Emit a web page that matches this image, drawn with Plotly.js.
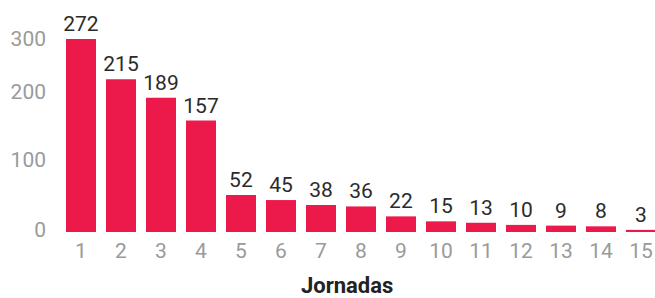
<!DOCTYPE html>
<html>
<head>
<meta charset="utf-8">
<script src="https://cdn.plot.ly/plotly-3.0.1.min.js"></script>
<style>html,body{margin:0;padding:0;background:#fff}#chart{width:655px;height:298px}</style>
</head>
<body>
<div id="chart"></div>
<script>
const jornadas = ["1","2","3","4","5","6","7","8","9","10","11","12","13","14","15"];
const valores = [272, 215, 189, 157, 52, 45, 38, 36, 22, 15, 13, 10, 9, 8, 3];
const yTickVals = [4, 102, 197, 272];
const yTickText = ["0", "100", "200", "300"];
const xTitle = "Jornadas";

const font = "Roboto, 'Open Sans', sans-serif";

Plotly.newPlot("chart", [{
  type: "bar",
  x: jornadas.map(Number),
  y: valores,
  text: valores.map(String),
  textposition: "outside",
  constraintext: "none",
  cliponaxis: false,
  textfont: {family: font, size: 21, color: "#2b2b2b"},
  marker: {color: "#EC1A4B"},
  hoverinfo: "none"
}], {
  width: 655, height: 298,
  margin: {l: 61, r: 0, t: 19, b: 66},
  paper_bgcolor: "#fff", plot_bgcolor: "#fff",
  bargap: 0.25,
  showlegend: false,
  xaxis: {
    range: [0.5, 15.35],
    tickvals: jornadas.map(Number),
    ticktext: jornadas,
    showgrid: false, zeroline: false, showline: false,
    ticks: "", ticklabelstandoff: 4,
    tickfont: {family: font, size: 21, color: "#9a9a9a"}
  },
  yaxis: {
    range: [0, 300],
    tickvals: yTickVals,
    ticktext: yTickText,
    showgrid: false, zeroline: false, showline: false,
    ticks: "", ticklabelstandoff: 14,
    tickfont: {family: font, size: 21, color: "#9a9a9a"}
  },
  annotations: [{
    text: "<b>" + xTitle + "</b>",
    xref: "paper", yref: "paper",
    x: 0.4815, y: -0.25,
    xanchor: "center", yanchor: "middle",
    showarrow: false,
    font: {family: font, size: 22, color: "#222"}
  }]
}, {staticPlot: true});
</script>
</body>
</html>
